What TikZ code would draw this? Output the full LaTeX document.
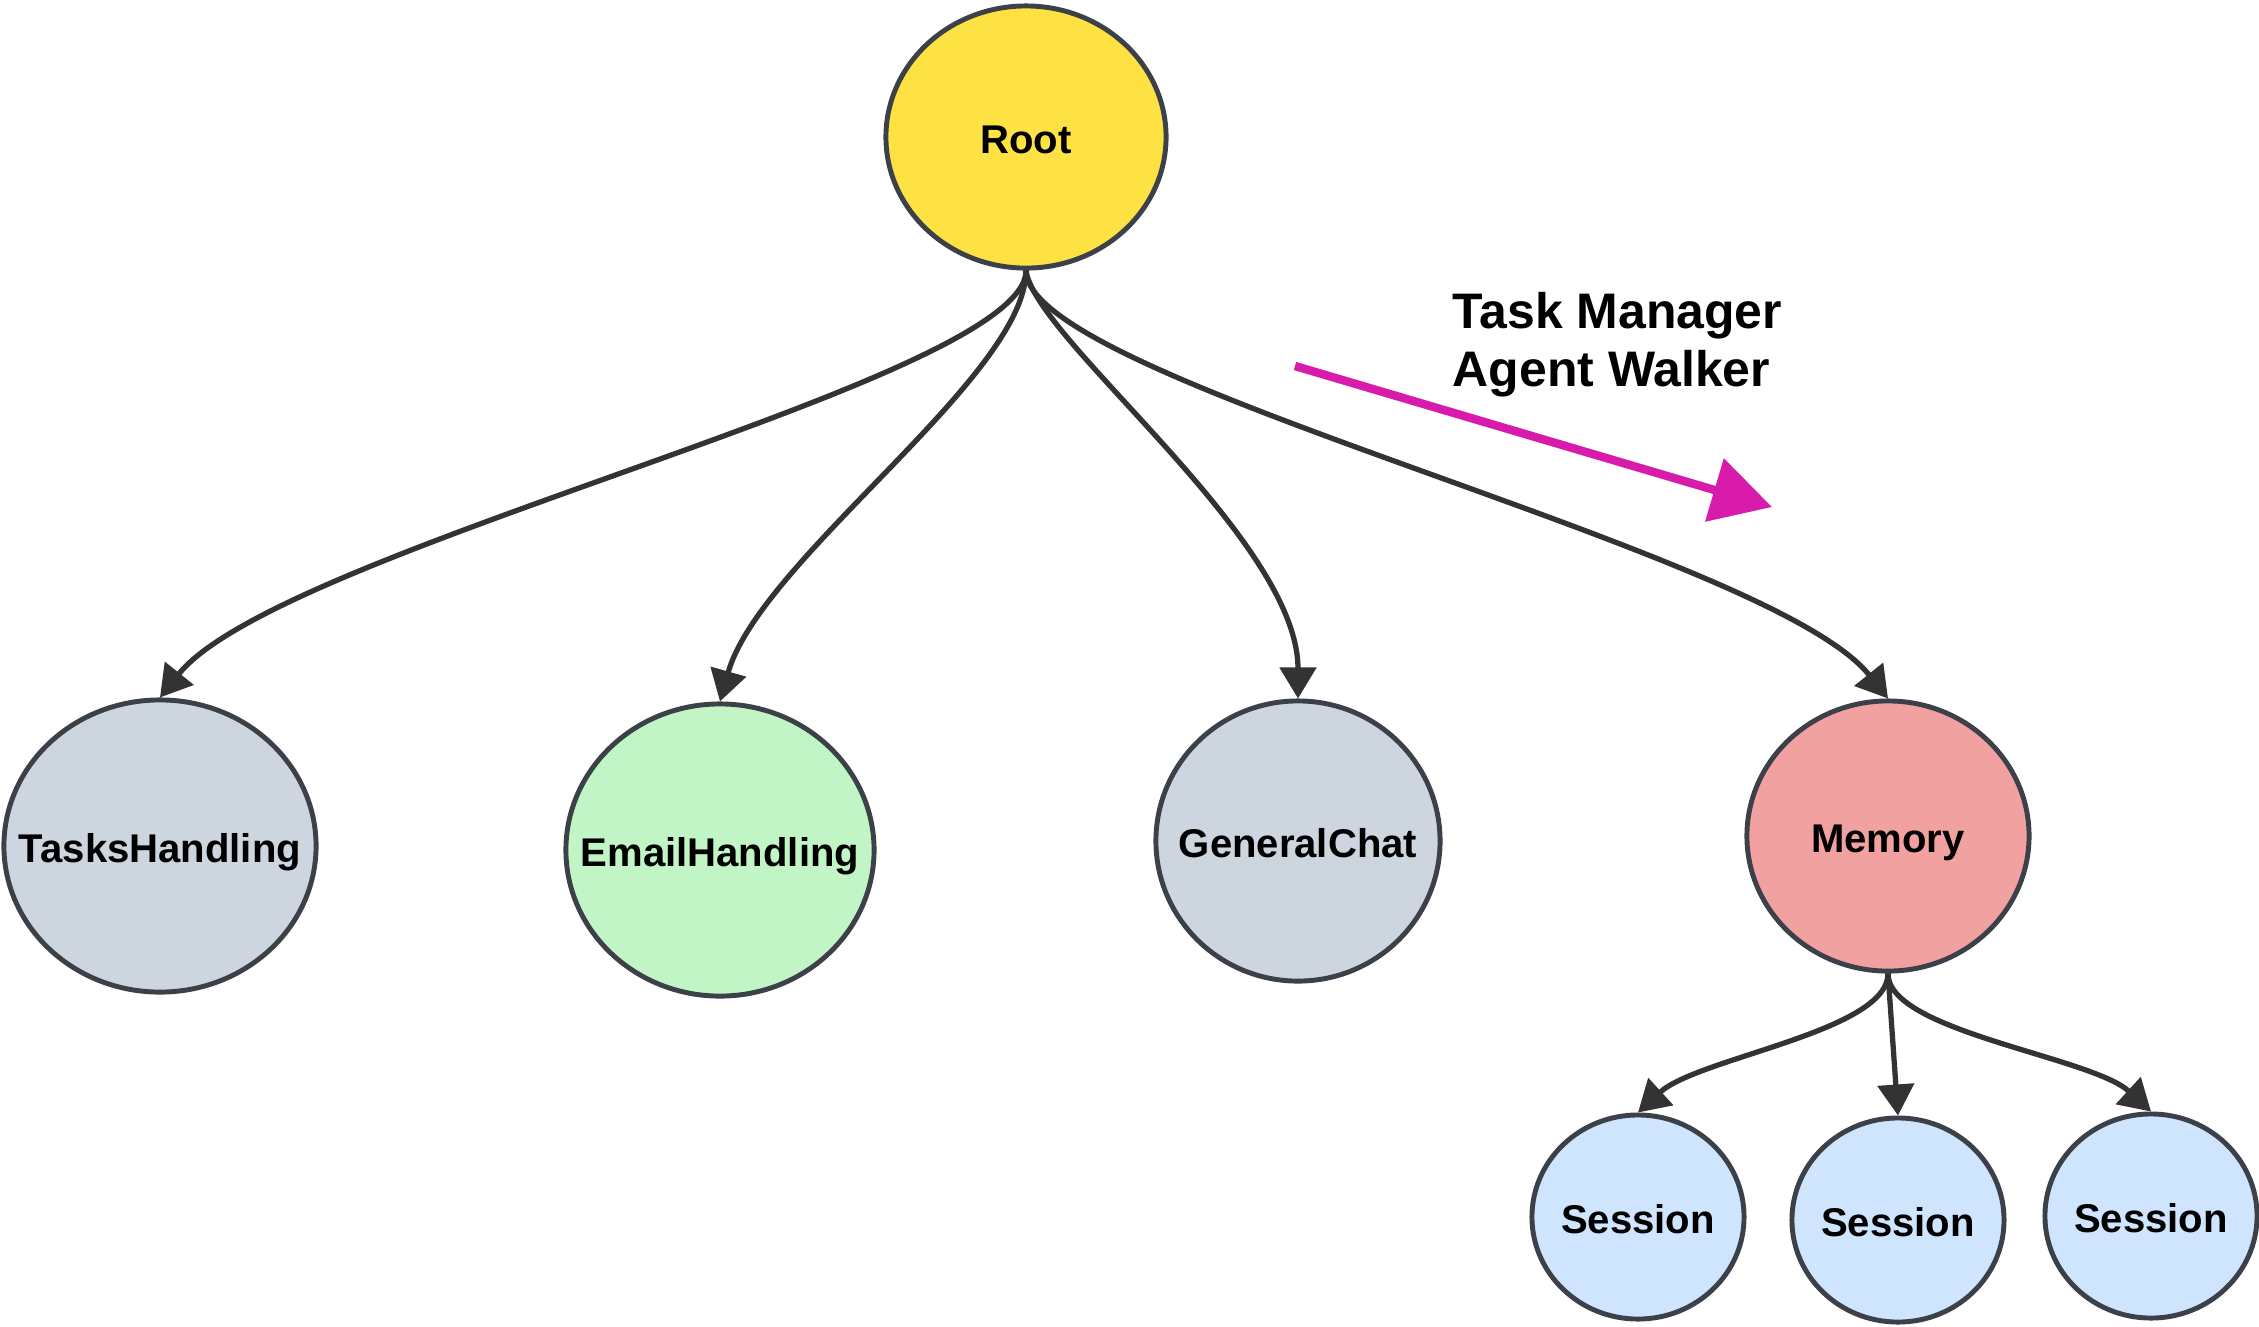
\documentclass[tikz,border=0pt]{standalone}
\usepackage{fontspec}
\setmainfont{Liberation Sans}
\usepackage{tikz}
\usetikzlibrary{shapes.geometric,arrows.meta}
\definecolor{rootyellow}{HTML}{FEE143}
\definecolor{agentgray}{HTML}{CDD5DF}
\definecolor{emailgreen}{HTML}{C2F5C6}
\definecolor{memorypink}{HTML}{F2A1A1}
\definecolor{sessionblue}{HTML}{CFE4FD}
\definecolor{agentborder}{HTML}{3B4049}
\definecolor{linkgray}{HTML}{333333}
\definecolor{walkmagenta}{HTML}{D81BAA}
% text that does not widen the ellipse
\newcommand{\agentname}[1]{\makebox[0pt]{#1}}

\begin{document}
\begin{tikzpicture}[x=0.01cm,y=-0.01cm,
        agent/.style={ellipse,draw=agentborder,line width=1.4pt,inner sep=0pt,
            text height=9.4pt,text depth=0pt,
            font=\bfseries\fontsize{11.4}{13}\selectfont},
        session/.style={agent,fill=sessionblue,minimum width=2.12cm,minimum height=2.04cm},
        link/.style={draw=linkgray,line width=1.5pt,-{Triangle[length=0.31cm,width=0.36cm]}},
        walk/.style={draw=walkmagenta,line width=2.4pt,-{Triangle[length=0.6cm,width=0.64cm]}},
        walklabel/.style={align=left,inner sep=0pt,font=\bfseries\fontsize{14.2}{16.4}\selectfont}]
    \useasboundingbox (0,0) rectangle (2259,1326);
    % agents
    \node[agent,fill=rootyellow,minimum width=2.80cm,minimum height=2.62cm] (root) at (1026,137) {\agentname{Root}};
    \node[agent,fill=agentgray,minimum width=3.12cm,minimum height=2.92cm] (tasks) at (160,846) {\agentname{TasksHandling}};
    \node[agent,fill=emailgreen,minimum width=3.08cm,minimum height=2.92cm] (email) at (720,850) {\agentname{EmailHandling}};
    \node[agent,fill=agentgray,minimum width=2.84cm,minimum height=2.80cm] (general) at (1298,841) {\agentname{GeneralChat}};
    \node[agent,fill=memorypink,minimum width=2.82cm,minimum height=2.70cm] (memory) at (1888,836) {\agentname{Memory}};
    \node[session] (sessiona) at (1638,1217) {\agentname{Session}};
    \node[session] (sessionb) at (1898,1220) {\agentname{Session}};
    \node[session] (sessionc) at (2151,1216) {\agentname{Session}};
    % links
    \draw[link] (root.south) .. controls +(0,110) and +(120,-150) .. (tasks.north);
    \draw[link] (root.south) .. controls +(0,106) and +(40,-142) .. (email.north);
    \draw[link] (root.south) .. controls +(10,70) and +(0,-160) .. (general.north);
    \draw[link] (root.south) .. controls +(0,110) and +(-120,-150) .. (memory.north);
    \draw[link] (memory.south) .. controls +(0,58) and +(60,-55) .. (sessiona.north);
    \draw[link] (memory.south) -- (sessionb.north);
    \draw[link] (memory.south) .. controls +(0,58) and +(-60,-55) .. (sessionc.north);
    % walker
    \coordinate (walkstart) at (1295,366);
    \coordinate (walkend) at (1772,507);
    \draw[walk] (walkstart) -- (walkend);
    \node[walklabel,anchor=north west] (walker) at (1452,292) {Task Manager\\Agent Walker};
\end{tikzpicture}
\end{document}
